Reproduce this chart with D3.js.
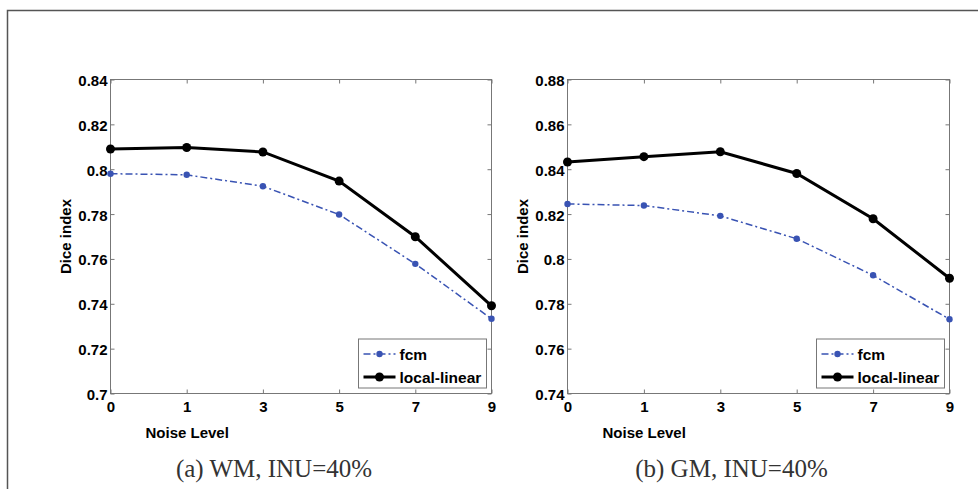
<!DOCTYPE html>
<html>
<head>
<meta charset="utf-8">
<script src="https://cdn.jsdelivr.net/npm/d3@7"></script>
<style>
  body { margin: 0; background: #fff; }
  svg { display: block; }
</style>
</head>
<body>
<div id="chart"></div>
<script>
// 数据
const noiseLevels = ["0", "1", "3", "5", "7", "9"];

const wmFcm = [0.798, 0.7975, 0.7924, 0.7798, 0.7578, 0.7333];
const wmLocal = [0.809, 0.8097, 0.8077, 0.7947, 0.7699, 0.7391];
const wmTicks = [0.7, 0.72, 0.74, 0.76, 0.78, 0.8, 0.82, 0.84];

const gmFcm = [0.8245, 0.8238, 0.8192, 0.809, 0.7927, 0.7731];
const gmLocal = [0.8432, 0.8456, 0.8478, 0.8381, 0.8179, 0.7914];
const gmTicks = [0.74, 0.76, 0.78, 0.8, 0.82, 0.84, 0.86, 0.88];

const seriesNames = ["fcm", "local-linear"];
const captions = ["(a) WM, INU=40%", "(b) GM, INU=40%"];

const width = 978, height = 489;
const blue = "#3953b3";
const sans = "Liberation Sans, Arial, sans-serif";

const svg = d3.select("#chart").append("svg")
    .attr("width", width)
    .attr("height", height);

// 外框
svg.append("path")
    .attr("d", "M7.5," + height + "V10.5H" + width)
    .attr("fill", "none")
    .attr("stroke", "#555")
    .attr("stroke-width", 1.5);

function drawPanel(left, right, ticks, fcm, local, caption) {
    const top = 79.5, bottom = 393.5;
    const x = d3.scalePoint().domain(noiseLevels).range([left, right]);
    const y = d3.scaleLinear().domain([ticks[0], ticks[ticks.length - 1]]).range([bottom, top]);
    const g = svg.append("g");

    // 坐标框
    g.append("rect")
        .attr("x", left).attr("y", top)
        .attr("width", right - left).attr("height", bottom - top)
        .attr("fill", "none").attr("stroke", "#777").attr("stroke-width", 1);

    const fmt = d => (+d.toFixed(2)).toString();

    const yAxis = g.append("g")
        .attr("transform", "translate(" + left + ",0)")
        .call(d3.axisLeft(y).tickValues(ticks).tickSize(-4).tickPadding(3).tickFormat(fmt));
    const yAxisR = g.append("g")
        .attr("transform", "translate(" + right + ",0)")
        .call(d3.axisRight(y).tickValues(ticks).tickSize(-4).tickFormat(""));
    const xAxis = g.append("g")
        .attr("transform", "translate(0," + bottom + ")")
        .call(d3.axisBottom(x).tickSize(-4).tickPadding(5));
    const xAxisT = g.append("g")
        .attr("transform", "translate(0," + top + ")")
        .call(d3.axisTop(x).tickSize(-4).tickFormat(""));

    [yAxis, yAxisR, xAxis, xAxisT].forEach(a => {
        a.select(".domain").remove();
        a.selectAll("line").attr("stroke", "#777");
        a.selectAll("text")
            .attr("fill", "#000")
            .style("font-family", sans)
            .style("font-weight", "bold")
            .style("font-size", "15px");
    });
    yAxis.selectAll("text").attr("dy", "0.4em");
    xAxis.selectAll("text").attr("dy", "0.9em");

    // 轴标题
    g.append("text")
        .attr("x", left + 35).attr("y", 438)
        .style("font-family", sans)
        .style("font-weight", "bold").style("font-size", "15px")
        .text("Noise Level");
    g.append("text")
        .attr("transform", "translate(" + (left - 40) + "," + ((top + bottom) / 2) + ") rotate(-90)")
        .attr("text-anchor", "middle")
        .style("font-family", sans)
        .style("font-weight", "bold").style("font-size", "15px")
        .text("Dice index");

    const line = d3.line().x((d, i) => x(noiseLevels[i])).y(d => y(d));

    // fcm
    g.append("path").datum(fcm)
        .attr("d", line).attr("fill", "none")
        .attr("stroke", blue).attr("stroke-width", 1.5)
        .attr("stroke-dasharray", "7,3,2,3");
    g.selectAll(".fcm").data(fcm).enter().append("circle")
        .attr("cx", (d, i) => x(noiseLevels[i])).attr("cy", d => y(d))
        .attr("r", 3.2).attr("fill", blue);

    // local-linear
    g.append("path").datum(local)
        .attr("d", line).attr("fill", "none")
        .attr("stroke", "#000").attr("stroke-width", 3);
    g.selectAll(".loc").data(local).enter().append("circle")
        .attr("cx", (d, i) => x(noiseLevels[i])).attr("cy", d => y(d))
        .attr("r", 4.5).attr("fill", "#000");

    // 图例
    const lx = right - 133, ly = 339;
    g.append("rect")
        .attr("x", lx).attr("y", ly).attr("width", 128).attr("height", 49)
        .attr("fill", "#fff").attr("stroke", "#777").attr("stroke-width", 1);
    const rows = [
        { name: seriesNames[0], color: blue, w: 1.5, dash: "7,3,2,3", r: 3.2, yy: ly + 15 },
        { name: seriesNames[1], color: "#000", w: 3, dash: null, r: 4.5, yy: ly + 38 }
    ];
    rows.forEach(rw => {
        g.append("line")
            .attr("x1", lx + 5).attr("x2", lx + 37)
            .attr("y1", rw.yy).attr("y2", rw.yy)
            .attr("stroke", rw.color).attr("stroke-width", rw.w)
            .attr("stroke-dasharray", rw.dash);
        g.append("circle").attr("cx", lx + 21).attr("cy", rw.yy).attr("r", rw.r).attr("fill", rw.color);
        g.append("text")
            .attr("x", lx + 41).attr("y", rw.yy + 5.5)
            .style("font-family", sans)
            .style("font-weight", "bold").style("font-size", "15.5px")
            .text(rw.name);
    });

    // 子图标题
    g.append("text")
        .attr("x", (left + right) / 2 - 27).attr("y", 477)
        .attr("text-anchor", "middle")
        .attr("fill", "#333")
        .style("font-family", "Liberation Serif, Times New Roman, serif")
        .style("font-size", "25px")
        .text(caption);
}

drawPanel(110.5, 491.5, wmTicks, wmFcm, wmLocal, captions[0]);
drawPanel(567.5, 949.5, gmTicks, gmFcm, gmLocal, captions[1]);
</script>
</body>
</html>
